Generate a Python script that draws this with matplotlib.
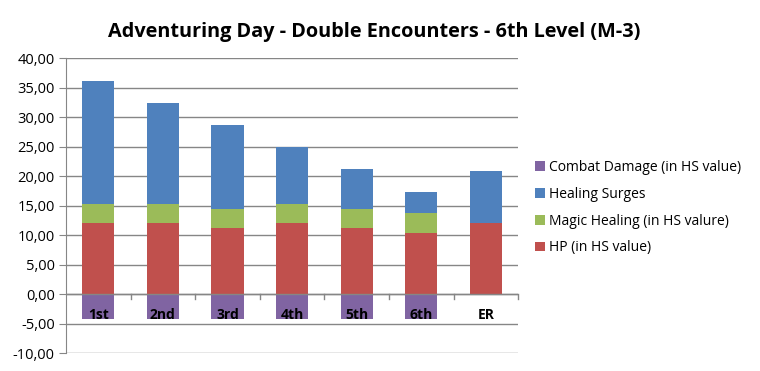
import numpy as np
import matplotlib.pyplot as plt

categories = ["1st", "2nd", "3rd", "4th", "5th", "6th", "ER"]
combat_damage = [-4.17, -4.17, -4.17, -4.17, -4.17, -4.17, 0]
hp = [12.0, 12.0, 11.2, 12.0, 11.2, 10.35, 12.0]
magic_healing = [3.33, 3.33, 3.2, 3.33, 3.2, 3.38, 0]
healing_surges = [20.8, 17.0, 14.2, 9.6, 6.8, 3.6, 8.85]

c_purple = "#8064A2"
c_blue = "#4F81BD"
c_green = "#9BBB59"
c_red = "#C0504D"
grid_c = "#868686"

plt.rcParams["font.family"] = ["Open Sans", "DejaVu Sans"]

fig = plt.figure(figsize=(7.6, 3.71), dpi=100)
ax = fig.add_axes([0.0868, 0.0485, 0.595, 0.795])

x = np.arange(len(categories))
w = 0.5
hp_a = np.array(hp)
mh_a = np.array(magic_healing)
b_cd = ax.bar(x, combat_damage, w, color=c_purple, label="Combat Damage (in HS value)", zorder=3)
b_hp = ax.bar(x, hp, w, color=c_red, label="HP (in HS value)", zorder=3)
b_mh = ax.bar(x, magic_healing, w, bottom=hp_a, color=c_green, label="Magic Healing (in HS valure)", zorder=3)
b_hs = ax.bar(x, healing_surges, w, bottom=hp_a + mh_a, color=c_blue, label="Healing Surges", zorder=3)

ax.set_xlim(-0.5, len(categories) - 0.5)
ax.set_ylim(-10, 40)
yt = np.arange(-10, 41, 5)
ax.set_yticks(yt)
ax.set_yticklabels([f"{v:.2f}".replace(".", ",") for v in yt], fontsize=10.5)
ax.tick_params(axis="y", length=5, color=grid_c, pad=3)
for v in yt:
    ax.axhline(v, color=grid_c, lw=1, zorder=1)

ax.set_xticks([])
ax.axhline(0, color=grid_c, lw=1, zorder=4)
for b in np.arange(0.5, len(categories), 1):
    ax.plot([b, b], [0, -0.9], color=grid_c, lw=1, zorder=4, clip_on=False)
for xi, lab in zip(x, categories):
    ax.text(xi, -3.5, lab, ha="center", va="center", fontsize=10, fontweight="bold", zorder=5)

for s in ["top", "right", "bottom"]:
    ax.spines[s].set_visible(False)
ax.spines["left"].set_color(grid_c)

fig.text(0.493, 0.914, "Adventuring Day - Double Encounters - 6th Level (M-3)",
         ha="center", va="center", fontsize=14.3, fontweight="bold")

handles = [b_cd, b_hs, b_mh, b_hp]
fig.legend(handles, [h.get_label() for h in handles], loc="center left",
           bbox_to_anchor=(0.688, 0.44), frameon=False, fontsize=10,
           handlelength=0.7, handleheight=0.7, handletextpad=0.3, labelspacing=0.85)

fig.savefig("out.png", dpi=100)
